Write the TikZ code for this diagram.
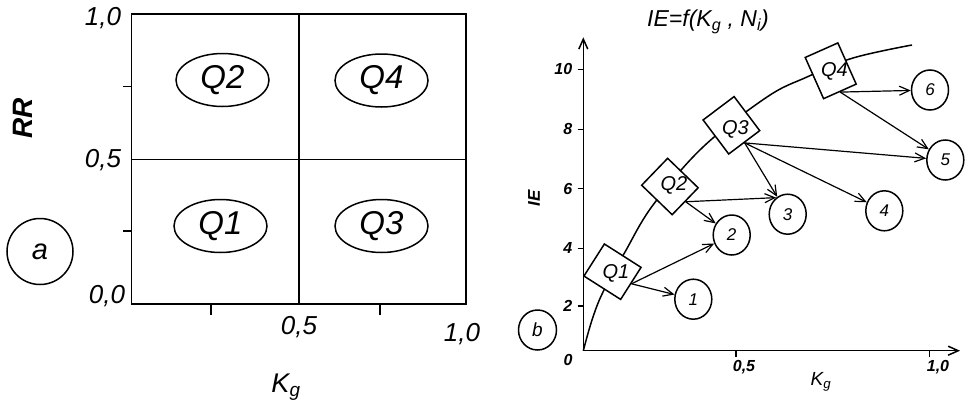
\documentclass[tikz,border=0pt]{standalone}
\usepackage{fontspec}
\setmainfont{Liberation Sans}
\usetikzlibrary{arrows.meta, shapes.geometric}

\begin{document}
\begin{tikzpicture}[x=1pt, y=-1pt, line width=1.5pt,
    >={Straight Barb[length=10pt, width=9pt]},
    qell/.style={draw, ellipse, minimum width=93pt, minimum height=53pt, inner sep=0pt,
        font=\fontsize{33}{33}\selectfont\itshape},
    qbox/.style={draw, fill=white, rectangle, inner sep=0pt},
    qtxt/.style={inner sep=0pt, font=\fontsize{20}{20}\selectfont\itshape},
    numc/.style={draw, fill=white, ellipse, minimum width=37pt, minimum height=40pt,
        inner sep=0pt, font=\fontsize{17}{17}\selectfont\itshape},
    lbla/.style={inner sep=0pt, font=\fontsize{26}{26}\selectfont\itshape},
    lblb/.style={inner sep=0pt, font=\fontsize{16}{16}\selectfont\bfseries\itshape}]

    \useasboundingbox (0,0) rectangle (968,407);

    % =================================================================
    % 1. PANEL a: THE FOUR QUADRANTS
    % =================================================================
    \def\xl{131.7}  % left edge
    \def\xm{298.8}  % K_g = 0,5
    \def\xr{466}    % right edge
    \def\yt{14}     % top edge
    \def\ym{159.3}  % RR = 0,5
    \def\yb{304}    % bottom edge

    \draw (\xl,\yt) rectangle (\xr,\yb);
    \draw (\xm,\yt) -- (\xm,\yb);
    \draw (\xl,\ym) -- (\xr,\ym);

    % small ticks
    \foreach \y in {86.7, 231} \draw (123,\y) -- (\xl,\y);
    \foreach \x in {211, 380} \draw (\x,\yb) -- (\x,315);

    % scale values
    \node[lbla] (ra1) at (103,18) {1,0};
    \node[lbla] (ra2) at (103,160) {0,5};
    \node[lbla] (ra3) at (107,296) {0,0};
    \node[lbla] (ka1) at (299,327) {0,5};
    \node[lbla] (ka2) at (462,334) {1,0};

    % axis names
    \node[inner sep=0pt, rotate=90, font=\fontsize{28}{28}\selectfont\bfseries\itshape]
        (rr) at (23,118) {RR};
    \node[inner sep=0pt, font=\fontsize{27}{27}\selectfont\itshape]
        (kga) at (286,387) {K\textsubscript{g}};

    % quadrants
    \node[qell] (e2) at (222.5,80) {Q2};
    \node[qell] (e4) at (381.5,80.5) {Q4};
    \node[qell] (e1) at (220.5,226) {Q1};
    \node[qell] (e3) at (381.5,226) {Q3};

    \node[draw, circle, minimum size=66pt, inner sep=0pt,
        font=\fontsize{29}{29}\selectfont\itshape] (pa) at (40,251.5) {a};

    % =================================================================
    % 2. PANEL b: AXES AND CURVE IE=f(K_g, N_i)
    % =================================================================
    \coordinate (O) at (583.3,350.7);
    \coordinate (xend) at (960,350.7);
    \coordinate (yend) at (583.3,37.3);

    \draw[->] (O) -- (xend);
    \draw[->] (O) -- (yend);

    \foreach \y/\t in {69.3/10, 129.3/8, 188.7/6, 248.3/4, 306/2} {
        \draw (577.7,\y) -- (583.3,\y);
        \node[lblb, anchor=east] (ty\t) at (573,\y) {\t};
    }
    \node[lblb] (ty0) at (568,360) {0};

    \draw (736,350.7) -- (736,356.7);
    \draw (929.3,350.7) -- (929.3,356.7);
    \node[lblb] (tx1) at (744,367) {0,5};
    \node[lblb] (tx2) at (938,367) {1,0};

    \node[inner sep=0pt, font=\fontsize{19}{19}\selectfont\itshape]
        (kgb) at (821,382) {K\textsubscript{g}};
    \node[inner sep=0pt, rotate=90, font=\fontsize{17}{17}\selectfont\bfseries\itshape]
        (ie) at (534,198) {IE};
    \node[inner sep=0pt, font=\fontsize{23}{23}\selectfont\itshape]
        (title) at (708,22) {IE=f(K\textsubscript{g} , N\textsubscript{i})};

    % curve
    \draw plot[smooth, tension=0.6] coordinates {(583.3,350.7) (592,320) (603,292)
        (625,252) (653,205) (703,147) (767,97) (807,77) (853,58) (912,45)};

    % =================================================================
    % 3. QUADRANT BOXES ON THE CURVE AND NUMBERED STATES
    % =================================================================
    \node[qbox, rotate=-32.5, minimum width=43.5pt, minimum height=38pt] (q1) at (612.5,271.7) {};
    \node[qbox, rotate=-44, minimum width=42.4pt, minimum height=37.4pt] (q2) at (669.9,186.5) {};
    \node[qbox, rotate=37, minimum width=38.8pt, minimum height=42.6pt] (q3) at (731.4,125.3) {};
    \node[qbox, rotate=24, minimum width=35.7pt, minimum height=45.1pt] (q4) at (830.7,70.8) {};

    \node[qtxt] (q1t) at (616,273) {Q1};
    \node[qtxt] (q2t) at (674,185) {Q2};
    \node[qtxt] (q3t) at (735.5,129) {Q3};
    \node[qtxt] (q4t) at (834.5,71.7) {Q4};

    \node[numc] (c1) at (693.3,299.2) {1};
    \node[numc] (c2) at (731.7,235) {2};
    \node[numc] (c3) at (787.7,214.2) {3};
    \node[numc] (c4) at (884.3,210.8) {4};
    \node[numc] (c5) at (945.3,160) {5};
    \node[numc] (c6) at (930,90) {6};

    \node[numc, minimum width=38pt, font=\fontsize{19}{19}\selectfont\itshape] (pb) at (537.5,330) {b};

    % transitions
    \draw[->, line width=1.2pt] (q1.east) -- (c1);
    \draw[->, line width=1.2pt] (q1.east) -- (c2);
    \draw[->, line width=1.2pt] (q2.east) -- (c2);
    \draw[->, line width=1.2pt] (q2.east) -- (c3.125);
    \draw[->, line width=1.2pt] (q3.south) -- (c3);
    \draw[->, line width=1.2pt] (q3.south) -- (c4);
    \draw[->, line width=1.2pt] (q3.south) -- (c5);
    \draw[->, line width=1.2pt] (q4.south) -- (c5);
    \draw[->, line width=1.2pt] (q4.south) -- (c6);

\end{tikzpicture}
\end{document}
